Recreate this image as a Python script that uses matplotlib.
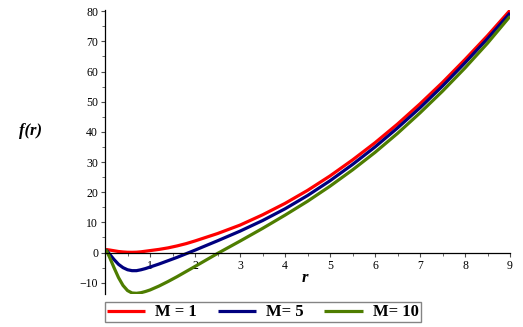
import matplotlib
matplotlib.use('Agg')
import matplotlib.pyplot as plt
from matplotlib.ticker import MultipleLocator

# radial coordinate and f(r)
r = [0.02, 0.1, 0.2, 0.3, 0.4, 0.5, 0.6, 0.7, 0.8, 0.9, 1.0, 1.2, 1.4, 1.6, 1.8,
     2.0, 2.5, 3.0, 3.5, 4.0, 4.5, 5.0, 5.5, 6.0, 6.5, 7.0, 7.5, 8.0, 8.5, 9.0]

f_m1 = [1.0, 0.85, 0.6, 0.35, 0.2, 0.1, 0.08, 0.12, 0.25, 0.45, 0.65, 1.05, 1.55, 2.2, 2.95,
        3.85, 6.3, 9.1, 12.5, 16.3, 20.6, 25.4, 30.7, 36.4, 42.6, 49.3, 56.4, 64.0, 71.9, 80.3]
f_m5 = [1.0, -0.5, -2.3, -3.9, -5.0, -5.7, -6.0, -6.0, -5.7, -5.3, -4.8, -3.8, -2.7, -1.6, -0.4,
        0.8, 3.9, 7.1, 10.6, 14.5, 18.9, 23.8, 29.2, 35.0, 41.3, 48.0, 55.2, 62.9, 70.9, 79.4]
f_m10 = [1.0, -1.5, -5.0, -8.3, -10.9, -12.6, -13.4, -13.5, -13.3, -12.9, -12.4, -11.1, -9.6, -8.0, -6.3,
         -4.6, -0.3, 3.8, 8.0, 12.4, 17.0, 22.0, 27.4, 33.2, 39.5, 46.3, 53.5, 61.2, 69.4, 78.3]

labels = ['M = 1', 'M= 5', 'M= 10']
colors = ['#ff0000', '#00007f', '#4e7d00']

plt.rcParams['font.family'] = 'Liberation Serif'

fig = plt.figure(figsize=(5.23, 3.27), dpi=100)
ax = fig.add_axes([0.2008, 0.0994, 0.7744, 0.870])

for y, c, lab in zip([f_m1, f_m5, f_m10], colors, labels):
    ax.plot(r, y, color=c, linewidth=2.3, label=lab, solid_capstyle='butt')

ax.set_xlim(0, 9)
ax.set_ylim(-13.9, 80.4)

# axes through the origin, Maple style
ax.spines['left'].set_position(('data', 0))
ax.spines['bottom'].set_position(('data', 0))
ax.spines['right'].set_visible(False)
ax.spines['top'].set_visible(False)
for s in ['left', 'bottom']:
    ax.spines[s].set_linewidth(0.9)

ax.xaxis.set_minor_locator(MultipleLocator(0.5))
ax.yaxis.set_minor_locator(MultipleLocator(5))
ax.set_xticks([1, 2, 3, 4, 5, 6, 7, 8, 9])
ax.set_xticklabels([str(v) for v in range(1, 10)])
ax.set_yticks([-10, 0, 10, 20, 30, 40, 50, 60, 70, 80])
ax.set_yticklabels(['\u221210', '0', '10', '20', '30', '40', '50', '60', '70', '80'])

ax.tick_params(axis='both', which='major', direction='out', length=3, width=0.8,
               labelsize=8.5, pad=2, color='0.3')
ax.tick_params(axis='both', which='minor', direction='out', length=2, width=0.7, color='0.4')

ax.text(-0.185, 0.575, 'f(r)', transform=ax.transAxes, fontsize=12,
        fontweight='bold', fontstyle='italic', ha='center', va='center')
ax.text(0.494, 0.058, 'r', transform=ax.transAxes, fontsize=12,
        fontweight='bold', fontstyle='italic', ha='center', va='center')

leg = ax.legend(loc='upper left', bbox_to_anchor=(-0.001, -0.028), borderaxespad=0,
                ncol=3, frameon=True, fancybox=False, edgecolor='0.4', handlelength=2.3,
                handletextpad=0.6, columnspacing=1.25, borderpad=0.12,
                prop={'weight': 'bold', 'size': 12})
leg.get_frame().set_linewidth(1.0)

fig.savefig('out.png', dpi=100)
